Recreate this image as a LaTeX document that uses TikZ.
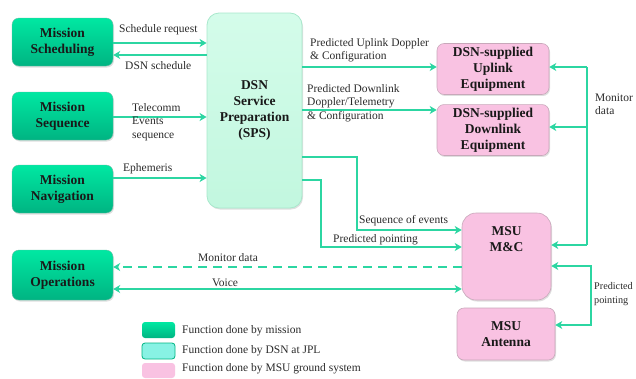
\documentclass[tikz,border=0pt]{standalone}
\usepackage{fontspec}
\setmainfont{Liberation Serif}
\usetikzlibrary{arrows.meta,shadows}
\definecolor{gtop}{HTML}{00E8A2}
\definecolor{gbot}{HTML}{00B482}
\definecolor{spsfill}{HTML}{D4FCEA}
\definecolor{spsbot}{HTML}{C2F7DF}
\definecolor{spsdraw}{HTML}{A8E8CC}
\definecolor{pinkfill}{HTML}{F9C2E2}
\definecolor{pinkdraw}{HTML}{C8A8BA}
\definecolor{arrowc}{HTML}{2CD6A2}
\definecolor{cyanfill}{HTML}{88F2E4}
\definecolor{txt}{HTML}{2A2A2A}
\tikzset{
  base/.style={rounded corners=7pt, align=center, font=\fontsize{13.5}{16}\selectfont\bfseries, text=black!90,
    drop shadow={opacity=0.25, shadow xshift=1pt, shadow yshift=-1.5pt}},
  mission/.style={base, top color=gtop, bottom color=gbot, draw=gbot!80!black!60, line width=0.4pt},
  spsbox/.style={base, top color=spsfill, bottom color=spsbot, draw=spsdraw, line width=0.8pt, rounded corners=12pt},
  msu/.style={base, fill=pinkfill, draw=pinkdraw, line width=0.6pt},
  arr/.style={draw=arrowc, line width=2.2pt, -{Stealth[length=7pt,width=8pt,inset=2pt]}},
  darr/.style={draw=arrowc, line width=2.2pt, {Stealth[length=7pt,width=8pt,inset=2pt]}-{Stealth[length=7pt,width=8pt,inset=2pt]}},
  ln/.style={draw=arrowc, line width=2.2pt},
  lbl/.style={font=\fontsize{11.5}{13.5}\selectfont, text=txt, align=left, inner sep=0pt},
  legbox/.style={rounded corners=3pt, minimum width=33pt, minimum height=16pt, inner sep=0pt}
}
\begin{document}
\begin{tikzpicture}[x=1pt,y=-1pt]
\useasboundingbox (0,0) rectangle (636,378);
% nodes
\node[mission, minimum width=101pt, minimum height=48pt] (sched) at (62.5,42) {Mission\\Scheduling};
\node[mission, minimum width=101pt, minimum height=48pt] (seq) at (62.5,116) {Mission\\Sequence};
\node[mission, minimum width=101pt, minimum height=48pt] (nav) at (62.5,189) {Mission\\Navigation};
\node[mission, minimum width=101pt, minimum height=50pt] (ops) at (62.5,275) {Mission\\Operations};
\node[spsbox, minimum width=95pt, minimum height=195pt] (sps) at (254.5,110.5) {DSN\\Service\\Preparation\\(SPS)};
\node[msu, minimum width=112pt, minimum height=48pt] (up) at (493,69) {DSN-supplied\\Uplink\\Equipment};
\node[msu, minimum width=112pt, minimum height=50pt] (down) at (493,130) {DSN-supplied\\Downlink\\Equipment};
\node[msu, minimum width=89pt, minimum height=87pt, rounded corners=14pt] (mc) at (506.5,256.5) {MSU\\M\&C\\[18pt]};
\node[msu, minimum width=98pt, minimum height=52pt] (ant) at (506,334) {MSU\\Antenna};
% coordinates
\coordinate (a1) at (sched.east |- 0,43);
\coordinate (a2) at (sps.west |- 0,55);
\coordinate (a3) at (seq.east |- 0,117);
\coordinate (a4) at (nav.east |- 0,178);
\coordinate (b1) at (sps.east |- 0,67);
\coordinate (b2) at (sps.east |- 0,110);
\coordinate (b3) at (sps.east |- 0,157);
\coordinate (b4) at (sps.east |- 0,180);
\coordinate (t1) at (587,67);
\coordinate (t2) at (587,127);
\coordinate (t3) at (587,245);
\coordinate (p1) at (mc.east |- 0,266);
\coordinate (p2) at (591,266);
\coordinate (p3) at (591,325);
\coordinate (m1) at (mc.west |- 0,267);
\coordinate (v1) at (mc.west |- 0,289);
% arrows left
\draw[arr] (a1) -- (a1 -| sps.west);
\draw[arr] (a2) -- (a2 -| sched.east);
\draw[arr] (a3) -- (a3 -| sps.west);
\draw[arr] (a4) -- (a4 -| sps.west);
% arrows right of SPS
\draw[arr] (b1) -- (b1 -| up.west);
\draw[arr] (b2) -- (b2 -| down.west);
\draw[arr] (b3) -- (357,157) -- (357,230) -- (mc.west |- 0,230);
\draw[arr] (b4) -- (321,180) -- (321,247) -- (mc.west |- 0,247);
% monitor data trunk
\draw[ln] (t1) -- (t3);
\draw[arr] (t1) -- (t1 -| up.east);
\draw[arr] (t2) -- (t2 -| down.east);
\draw[arr] (t3) -- (t3 -| mc.east);
% predicted pointing right
\draw[darr] (p1) -- (p2) -- (p3) -- (p3 -| ant.east);
% monitor data and voice
\draw[arr, dash pattern=on 9pt off 6pt] (m1) -- (m1 -| ops.east);
\draw[darr] (v1) -- (v1 -| ops.east);
% labels
\node[lbl, anchor=west] (l1) at (119,30) {Schedule request};
\node[lbl, anchor=west] (l2) at (125,66) {DSN schedule};
\node[lbl, anchor=west] (l3) at (132,122) {Telecomm\\Events\\sequence};
\node[lbl, anchor=west] (l4) at (123,169) {Ephemeris};
\node[lbl, anchor=west] (l5) at (310,50) {Predicted Uplink Doppler\\\& Configuration};
\node[lbl, anchor=west] (l6) at (307,103) {Predicted Downlink\\Doppler/Telemetry\\\& Configuration};
\node[lbl, anchor=west] (l7) at (359,221) {Sequence of events};
\node[lbl, anchor=west] (l8) at (333,240) {Predicted pointing};
\node[lbl, anchor=west] (l9) at (595,104) {Monitor\\data};
\node[lbl, anchor=west, font=\fontsize{10.2}{13.5}\selectfont] (l10) at (594,294) {Predicted\\pointing};
\node[lbl] (l11) at (228,258) {Monitor data};
\node[lbl] (l12) at (225,283) {Voice};
% legend
\node[legbox, top color=gtop, bottom color=gbot] (k1) at (158.5,330) {};
\node[legbox, fill=cyanfill, draw=gbot, line width=0.8pt] (k2) at (158.5,351) {};
\node[legbox, fill=pinkfill, minimum height=15pt] (k3) at (158.5,370.5) {};
\node[lbl, anchor=west] (kt1) at (182,331) {Function done by mission};
\node[lbl, anchor=west] (kt2) at (182,351) {Function done by DSN at JPL};
\node[lbl, anchor=west] (kt3) at (182,369) {Function done by MSU ground system};
\end{tikzpicture}
\end{document}
